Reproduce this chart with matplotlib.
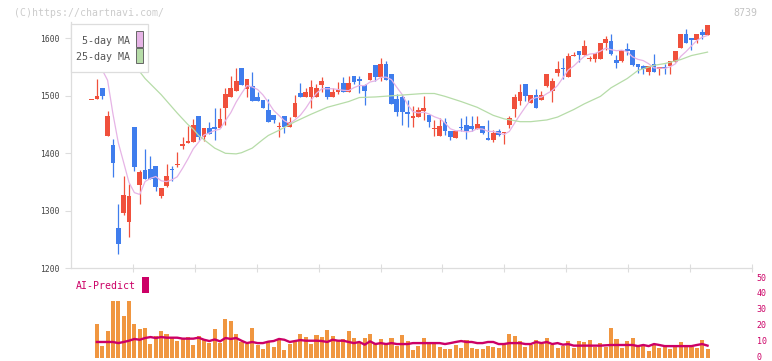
import numpy as np
import matplotlib
matplotlib.use("Agg")
import matplotlib.pyplot as plt
from matplotlib.patches import Rectangle
from matplotlib.transforms import blended_transform_factory, ScaledTranslation

# ---------------- data ----------------
open_ = [1494, 1494, 1513, 1430, 1414, 1270, 1297, 1281, 1446, 1345,
         1371, 1373, 1378, 1325, 1343, 1373, 1380, 1412, 1418, 1420,
         1465, 1429, 1444, 1446, 1444, 1479, 1498, 1509, 1549, 1512,
         1517, 1498, 1492, 1475, 1466, 1445, 1465, 1445, 1463, 1505,
         1498, 1498, 1498, 1519, 1516, 1498, 1507, 1523, 1507, 1534,
         1529, 1519, 1527, 1553, 1533, 1555, 1538, 1494, 1498, 1472,
         1462, 1464, 1474, 1467, 1443, 1430, 1455, 1439, 1427, 1445,
         1450, 1448, 1442, 1448, 1427, 1423, 1439, 1435, 1450, 1477,
         1491, 1520, 1488, 1501, 1493, 1517, 1509, 1540, 1549, 1533,
         1569, 1578, 1571, 1564, 1564, 1564, 1591, 1595, 1562, 1560,
         1582, 1579, 1555, 1552, 1542, 1555, 1546, 1549, 1552, 1559,
         1583, 1608, 1600, 1597, 1611, 1606]
high = [1494, 1529, 1513, 1473, 1425, 1312, 1361, 1347, 1446, 1371,
        1407, 1395, 1378, 1340, 1381, 1378, 1402, 1429, 1447, 1460,
        1465, 1444, 1454, 1479, 1479, 1513, 1534, 1549, 1549, 1529,
        1541, 1506, 1492, 1494, 1466, 1455, 1465, 1463, 1501, 1523,
        1514, 1527, 1521, 1533, 1516, 1514, 1524, 1533, 1534, 1534,
        1534, 1521, 1539, 1553, 1565, 1560, 1538, 1503, 1502, 1493,
        1482, 1481, 1500, 1467, 1458, 1461, 1461, 1439, 1438, 1461,
        1465, 1465, 1465, 1448, 1458, 1441, 1442, 1437, 1465, 1503,
        1521, 1520, 1501, 1512, 1508, 1538, 1531, 1560, 1565, 1575,
        1576, 1578, 1597, 1569, 1574, 1591, 1604, 1607, 1571, 1579,
        1591, 1579, 1555, 1553, 1552, 1572, 1550, 1555, 1560, 1578,
        1607, 1616, 1600, 1607, 1616, 1624]
low = [1494, 1494, 1494, 1430, 1358, 1225, 1292, 1254, 1370, 1311,
       1356, 1355, 1334, 1323, 1342, 1351, 1377, 1407, 1418, 1420,
       1423, 1421, 1434, 1423, 1444, 1449, 1498, 1509, 1518, 1498,
       1491, 1491, 1479, 1454, 1453, 1429, 1435, 1445, 1463, 1498,
       1498, 1478, 1498, 1507, 1495, 1498, 1504, 1507, 1507, 1521,
       1505, 1484, 1527, 1526, 1526, 1527, 1486, 1465, 1449, 1445,
       1445, 1464, 1458, 1445, 1430, 1430, 1432, 1423, 1427, 1438,
       1425, 1438, 1442, 1433, 1424, 1419, 1430, 1416, 1444, 1464,
       1484, 1491, 1488, 1479, 1493, 1515, 1490, 1534, 1529, 1533,
       1569, 1559, 1571, 1560, 1559, 1564, 1579, 1571, 1549, 1559,
       1571, 1552, 1539, 1538, 1536, 1542, 1536, 1538, 1538, 1559,
       1583, 1592, 1579, 1591, 1599, 1606]
close = [1494, 1500, 1500, 1465, 1384, 1243, 1328, 1326, 1377, 1368,
         1356, 1355, 1342, 1340, 1361, 1371, 1382, 1416, 1421, 1449,
         1429, 1444, 1434, 1443, 1460, 1503, 1513, 1526, 1518, 1529,
         1491, 1491, 1479, 1454, 1458, 1447, 1445, 1455, 1487, 1498,
         1507, 1516, 1514, 1526, 1498, 1507, 1510, 1507, 1523, 1524,
         1526, 1508, 1539, 1533, 1555, 1527, 1486, 1472, 1471, 1468,
         1465, 1475, 1479, 1455, 1444, 1448, 1438, 1428, 1438, 1444,
         1438, 1443, 1451, 1435, 1424, 1436, 1432, 1437, 1461, 1498,
         1507, 1500, 1501, 1479, 1501, 1538, 1526, 1546, 1546, 1569,
         1571, 1571, 1586, 1566, 1574, 1591, 1598, 1572, 1557, 1579,
         1578, 1553, 1550, 1546, 1552, 1542, 1550, 1548, 1560, 1578,
         1607, 1592, 1597, 1607, 1606, 1623]

ma5 = [1575, 1560, 1545, 1527, 1468.6, 1418.4, 1384.0, 1349.2, 1331.6, 1328.4,
       1351.0, 1356.4, 1359.6, 1352.2, 1350.8, 1353.8, 1359.2, 1374.0, 1390.2, 1407.8,
       1419.4, 1431.8, 1435.4, 1439.8, 1442.0, 1456.8, 1470.6, 1489.0, 1504.0, 1517.8,
       1515.4, 1511.0, 1501.6, 1488.8, 1474.6, 1465.8, 1456.6, 1451.8, 1458.4, 1466.4,
       1478.4, 1492.6, 1504.4, 1512.2, 1512.2, 1512.2, 1511.0, 1509.6, 1509.0, 1514.2,
       1518.0, 1517.6, 1524.0, 1526.0, 1532.2, 1532.4, 1528.0, 1514.6, 1502.2, 1484.8,
       1472.4, 1470.2, 1471.6, 1468.4, 1463.6, 1460.2, 1452.8, 1442.6, 1439.2, 1439.2,
       1437.2, 1438.2, 1442.8, 1442.2, 1438.2, 1437.8, 1435.6, 1432.8, 1438.0, 1452.8,
       1467.0, 1480.6, 1493.4, 1497.0, 1497.6, 1503.8, 1509.0, 1518.0, 1531.4, 1545.0,
       1551.6, 1560.6, 1568.6, 1572.6, 1573.6, 1577.6, 1583.0, 1580.2, 1578.4, 1579.4,
       1576.8, 1567.8, 1563.4, 1561.2, 1555.8, 1548.6, 1548.0, 1547.6, 1550.4, 1555.6,
       1568.6, 1577.0, 1586.8, 1596.2, 1601.8, 1605.0]

ma25_idx = [5, 7, 9, 10, 13, 16, 18, 19, 20, 23, 25, 27, 28, 30, 32, 33, 35, 38, 41,
            44, 48, 50, 53, 56, 59, 62, 64, 66, 69, 72, 75, 77, 80, 82, 85, 87, 90,
            92, 95, 97, 100, 102, 105, 107, 110, 112, 115]
ma25_val = [1588, 1566, 1542, 1530, 1502, 1470, 1450, 1442, 1431, 1409, 1400, 1399,
            1401, 1409, 1424, 1431, 1440, 1455, 1468, 1480, 1490, 1497, 1498, 1500,
            1502, 1504, 1504, 1499, 1490, 1480, 1466, 1460, 1455, 1455, 1458, 1463,
            1476, 1486, 1499, 1514, 1530, 1544, 1553, 1556, 1563, 1570, 1576]

volume = [0, 21.4, 7.6, 17.0, 36, 36, 26.4, 36, 21.4, 18.3,
          18.9, 8.8, 13.9, 17.0, 15.1, 12.6, 10.7, 12.6, 13.2, 8.2,
          13.9, 12.0, 9.4, 18.3, 9.4, 24.6, 23.3, 15.1, 10.1, 8.8,
          18.9, 8.2, 5.7, 10.1, 6.9, 12.0, 5.0, 8.8, 10.1, 15.1,
          13.2, 8.8, 14.5, 13.2, 17.6, 13.9, 10.7, 12.0, 17.0, 12.6,
          9.4, 12.6, 15.1, 8.8, 12.0, 8.8, 12.6, 7.6, 14.5, 10.7,
          5.0, 7.6, 12.6, 8.8, 8.8, 6.9, 5.7, 5.7, 8.2, 6.3,
          11.3, 6.3, 5.7, 5.7, 7.6, 6.9, 6.3, 8.2, 15.1, 13.9,
          10.7, 6.9, 8.2, 11.3, 8.8, 12.6, 8.2, 6.3, 7.6, 10.7,
          6.3, 10.7, 10.1, 11.3, 6.9, 9.4, 6.9, 18.9, 12.0, 6.3,
          10.7, 12.6, 6.9, 8.2, 4.4, 8.2, 6.3, 6.9, 5.7, 6.9,
          10.1, 6.9, 6.9, 6.3, 11.3, 5.7]

ai_predict = [np.nan, 9.9, 9.9, 9.9, 9.9, 9.2, 9.9, 10.7, 11.8, 11.3,
              12.4, 13.0, 12.4, 13.0, 12.6, 12.6, 12.6, 12.0, 12.0, 12.0,
              12.6, 11.3, 10.5, 11.5, 10.3, 12.4, 11.8, 12.4, 10.7, 9.2,
              9.9, 9.2, 9.2, 10.1, 10.5, 11.8, 11.3, 9.9, 10.5, 11.1,
              10.7, 10.7, 10.7, 10.5, 9.9, 11.3, 10.7, 10.7, 9.9, 9.2,
              9.9, 8.2, 10.3, 8.6, 9.2, 8.6, 9.2, 8.6, 8.6, 8.6,
              9.2, 9.2, 9.2, 9.2, 9.2, 9.2, 8.6, 9.2, 9.9, 10.5,
              9.9, 9.9, 9.2, 9.2, 9.9, 9.9, 8.6, 8.6, 9.2, 9.2,
              9.2, 8.6, 8.6, 9.9, 9.2, 9.9, 8.6, 9.2, 8.2, 8.6,
              7.6, 7.6, 7.6, 7.6, 7.6, 7.6, 7.8, 8.0, 8.0, 8.0,
              8.0, 8.0, 7.3, 8.0, 7.3, 8.6, 8.0, 7.3, 7.3, 7.3,
              7.3, 7.3, 7.3, 8.0, 8.6, 7.6]

date_idx = [15, 25, 35, 45, 55, 65, 75, 85, 95, 105, 115]
date_labels = ["4/21", "5/8", "5/22", "6/5", "6/19", "7/3", "7/17", "8/1", "8/18", "9/1", "9/16"]
price_ticks = [1200, 1300, 1400, 1500, 1600]
vol_ticks = [0, 10, 20, 30, 40, 50]

# ---------------- styling ----------------
W, H = 772, 361
RED = "#f0503c"
BLUE = "#3f7ded"
ORANGE = "#f09640"
MAG = "#cc0066"
PINK = "#e6b4e6"
GREEN = "#b6dca8"
AXC = "#dddddd"
MONO = "DejaVu Sans Mono"

def fx(x):
    return x / W

def fy(y):
    return 1 - y / H

fig = plt.figure(figsize=(W / 100, H / 100), dpi=100)
fig.patch.set_facecolor("white")

XL = (-3.83, 123.3)
ax_top_px, ax_bot_px = 22, 268.3
ax = fig.add_axes([fx(71), fy(ax_bot_px), (752 - 71) / W, (ax_bot_px - ax_top_px) / H])
ax.set_xlim(*XL)
ax.set_ylim(1200, 1200 + (ax_bot_px - ax_top_px) / 0.575)

idx = np.arange(len(close))
o = np.array(open_, float)
c = np.array(close, float)
hi = np.array(high, float)
lo = np.array(low, float)
up = c >= o
cols = np.where(up, RED, BLUE)

ax.vlines(idx, lo, hi, colors=cols, lw=0.9, zorder=2)
body = np.abs(c - o)
minh = 1.7
bh = np.maximum(body, minh)
bb = np.minimum(o, c) - (bh - body) / 2
ax.bar(idx, bh, bottom=bb, width=0.88, color=cols, lw=0, zorder=3)

ax.plot(idx, ma5, color=PINK, lw=0.9, zorder=4)
ax.plot(ma25_idx, ma25_val, color=GREEN, lw=0.9, zorder=4)

for s in ("top", "right"):
    ax.spines[s].set_visible(False)
for s in ("left", "bottom"):
    ax.spines[s].set_color(AXC)
    ax.spines[s].set_linewidth(0.9)

ax.set_yticks(price_ticks)
ax.set_yticklabels([str(t) for t in price_ticks], fontfamily=MONO, fontsize=5.8, color="#444444")
ax.tick_params(axis="y", direction="out", length=4.3, width=0.8, color=AXC, pad=4)
xt = np.linspace(XL[0], XL[1], 12)[1:]
ax.set_xticks(xt)
ax.set_xticklabels([])
ax.tick_params(axis="x", direction="inout", length=6, width=0.8, color=AXC)

# date labels between panels
tr = blended_transform_factory(ax.transData, fig.transFigure)
for i, lab in zip(date_idx, date_labels):
    ax.text(i, fy(282.5), lab, transform=tr, ha="center", va="center",
            fontfamily=MONO, fontsize=5.9, color="#555555", clip_on=False)

# ---------------- lower panel ----------------
ax2 = fig.add_axes([fx(71), fy(357.7), (752 - 71) / W, (357.7 - 278.3) / H])
ax2.set_xlim(*XL)
ax2.set_ylim(0, 50)
ax2.bar(idx, volume, width=0.76, color=ORANGE, lw=0, zorder=2)
ax2.plot(idx, ai_predict, color=MAG, lw=1.7, zorder=3)
for s in ax2.spines.values():
    s.set_visible(False)
ax2.set_xticks([])
ax2.yaxis.tick_right()
ax2.set_yticks(vol_ticks)
ax2.set_yticklabels([str(t) for t in vol_ticks], fontfamily=MONO, fontsize=6.0, color=MAG)
ax2.tick_params(axis="y", length=0, pad=3.5)
nudge = ScaledTranslation(0, 1.2 / 100, fig.dpi_scale_trans)
for t in ax2.get_yticklabels():
    t.set_horizontalalignment("left")
    t.set_transform(t.get_transform() + nudge)

# ---------------- legend (drawn above plot) ----------------
fig.add_artist(Rectangle((fx(70.5), fy(71.7)), (148.3 - 70.5) / W, (71.7 - 24) / H,
                         transform=fig.transFigure, facecolor="white", edgecolor=AXC,
                         lw=0.9, zorder=5))
fig.add_artist(Rectangle((fx(136.3), fy(46.5)), 6.2 / W, 15.2 / H, transform=fig.transFigure,
                         facecolor=PINK, edgecolor="#666666", lw=0.7, zorder=6))
fig.add_artist(Rectangle((fx(136.3), fy(63.3)), 6.2 / W, 15.2 / H, transform=fig.transFigure,
                         facecolor=GREEN, edgecolor="#666666", lw=0.7, zorder=6))
fig.text(fx(129.5), fy(40.5), "5-day MA", ha="right", va="center", fontfamily=MONO,
         fontsize=7.2, color="#555555", zorder=7)
fig.text(fx(129.5), fy(56.8), "25-day MA", ha="right", va="center", fontfamily=MONO,
         fontsize=7.2, color="#555555", zorder=7)

# ---------------- misc texts ----------------
fig.text(fx(14), fy(12.5), "(C)https://chartnavi.com/", ha="left", va="center",
         fontfamily=MONO, fontsize=7.1, color="#cccccc")
fig.text(fx(757), fy(12.8), "8739", ha="right", va="center", fontfamily=MONO,
         fontsize=7.1, color="#c4c4c4")
fig.text(fx(75.5), fy(286), "AI-Predict", ha="left", va="center", fontfamily=MONO,
         fontsize=7.1, color=MAG)
fig.add_artist(Rectangle((fx(142), fy(292.7)), 7 / W, 16 / H, transform=fig.transFigure,
                         facecolor=MAG, edgecolor="none", zorder=5))

fig.savefig("out.png", dpi=100, facecolor="white")
